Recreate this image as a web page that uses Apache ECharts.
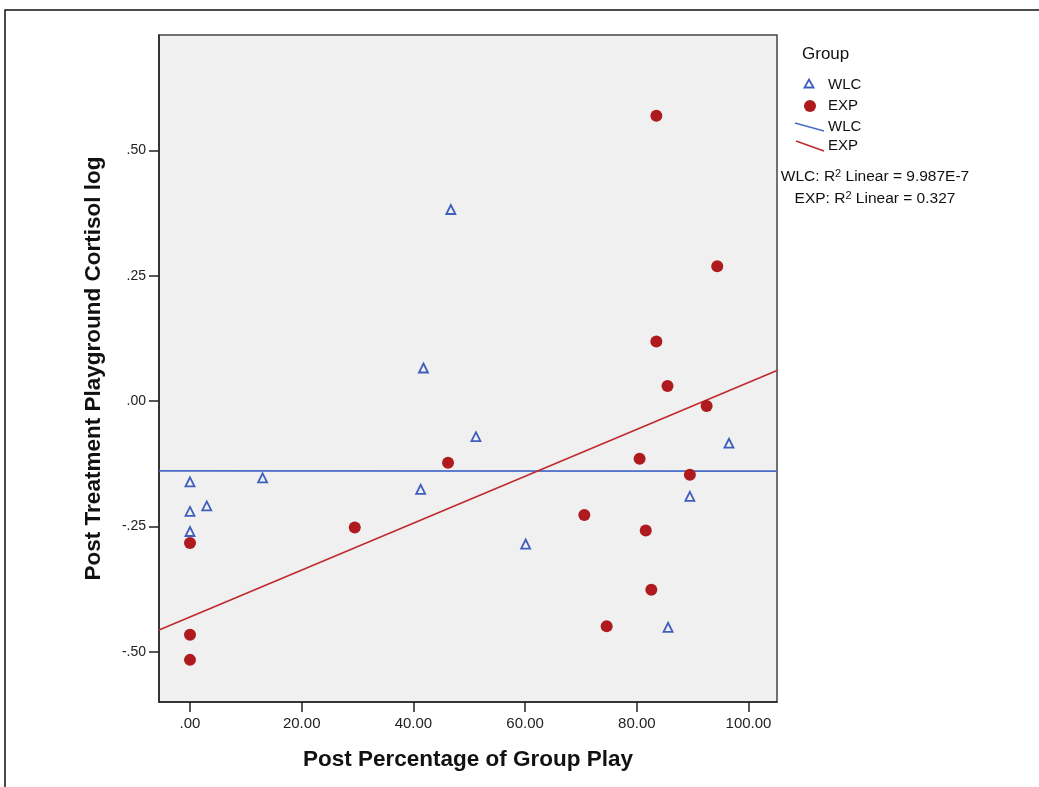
<!DOCTYPE html>
<html>
<head>
<meta charset="utf-8">
<script src="https://cdn.jsdelivr.net/npm/echarts@6.0.0/dist/echarts.min.js"></script>
<style>
  html, body { margin: 0; padding: 0; background: #fff; }
  #chart { width: 1039px; height: 787px; }
</style>
</head>
<body>
<div id="chart"></div>
<script>
// WLC group (triangles)
const wlcX = [0, 0, 0, 3, 13, 41.3, 41.8, 46.7, 51.2, 60.1, 85.6, 89.5, 96.5];
const wlcY = [-0.161, -0.22, -0.26, -0.209, -0.153, -0.176, 0.066, 0.382, -0.071, -0.285, -0.451, -0.19, -0.084];
// EXP group (circles)
const expX = [0, 0, 0, 29.5, 46.2, 70.6, 74.6, 80.5, 81.6, 82.6, 83.5, 83.5, 85.5, 89.5, 92.5, 94.4];
const expY = [-0.283, -0.466, -0.516, -0.252, -0.123, -0.227, -0.449, -0.115, -0.258, -0.376, 0.119, 0.569, 0.030, -0.147, -0.010, 0.269];

const xTicks = [0, 20, 40, 60, 80, 100];
const yTicks = [-0.5, -0.25, 0, 0.25, 0.5];
const xMin = -5.55, xMax = 105.1;
const yMin = -0.60, yMax = 0.73;

const fitTexts = ['WLC: R', ' Linear = 9.987E-7', 'EXP: R', ' Linear = 0.327'];

// least squares fit line
function fit(xs, ys) {
  let n = xs.length, mx = 0, my = 0;
  for (let i = 0; i < n; i++) { mx += xs[i]; my += ys[i]; }
  mx /= n; my /= n;
  let sxy = 0, sxx = 0;
  for (let i = 0; i < n; i++) {
    sxy += (xs[i] - mx) * (ys[i] - my);
    sxx += (xs[i] - mx) * (xs[i] - mx);
  }
  let b = sxy / sxx, a = my - b * mx;
  return [[xMin, a + b * xMin], [xMax, a + b * xMax]];
}

function fmt(v) {
  // SPSS style: .50, -.25, 20.00
  let s = Math.abs(v).toFixed(2);
  if (s.startsWith('0')) s = s.slice(1);
  return (v < 0 ? '-' : '') + s;
}

const blue = '#3f5fbd';
const blueLine = '#4a6cc9';
const red = '#ae1a1e';
const redLine = '#c02a2f';
const font = '"Liberation Sans", Arial, sans-serif';

let myChart = echarts.init(document.getElementById('chart'));
let option = {
  backgroundColor: '#ffffff',
  animation: false,
  textStyle: { fontFamily: font },
  grid: {
    left: 159, top: 35, right: 262, bottom: 85,
    show: true,
    backgroundColor: '#f0f0f0',
    borderColor: '#444',
    borderWidth: 1.5
  },
  xAxis: {
    type: 'value',
    min: xMin, max: xMax,
    name: 'Post Percentage of Group Play',
    nameLocation: 'middle',
    nameGap: 46,
    nameTextStyle: { fontSize: 22.5, fontWeight: 'bold', color: '#111', fontFamily: font },
    splitLine: { show: false },
    axisLine: { show: true, onZero: false, lineStyle: { color: '#222', width: 1.5 } },
    axisTick: { show: true, customValues: xTicks, length: 10, lineStyle: { color: '#222', width: 1.5 } },
    axisLabel: {
      customValues: xTicks, margin: 14, fontSize: 15, color: '#222', fontFamily: font,
      formatter: fmt
    }
  },
  yAxis: {
    type: 'value',
    min: yMin, max: yMax,
    name: 'Post Treatment Playground Cortisol log',
    nameLocation: 'middle',
    nameGap: 54,
    nameTextStyle: { fontSize: 22.5, fontWeight: 'bold', color: '#111', fontFamily: font },
    splitLine: { show: false },
    axisLine: { show: true, onZero: false, lineStyle: { color: '#222', width: 1.5 } },
    axisTick: { show: true, customValues: yTicks, length: 10, lineStyle: { color: '#222', width: 1.5 } },
    axisLabel: {
      customValues: yTicks, margin: 13, fontSize: 14, color: '#222', fontFamily: font,
      formatter: fmt
    }
  },
  series: [
    {
      name: 'WLC fit', type: 'line',
      data: fit(wlcX, wlcY),
      symbol: 'none',
      lineStyle: { color: blueLine, width: 1.6 },
      z: 2
    },
    {
      name: 'EXP fit', type: 'line',
      data: fit(expX, expY),
      symbol: 'none',
      lineStyle: { color: redLine, width: 1.6 },
      z: 2
    },
    {
      name: 'WLC', type: 'scatter',
      data: wlcX.map((x, i) => [x, wlcY[i]]),
      symbol: 'triangle',
      symbolSize: 9,
      itemStyle: { color: 'rgba(0,0,0,0)', borderColor: blue, borderWidth: 1.8, opacity: 1 },
      z: 3
    },
    {
      name: 'EXP', type: 'scatter',
      data: expX.map((x, i) => [x, expY[i]]),
      symbol: 'circle',
      symbolSize: 12,
      itemStyle: { color: red, opacity: 1 },
      z: 3
    }
  ],
  graphic: [
    // outer frame
    { type: 'rect', shape: { x: 5, y: 10, width: 1100, height: 900 }, style: { fill: 'none', stroke: '#111', lineWidth: 1.5 }, silent: true },
    // legend
    { type: 'text', left: 802, top: 46, style: { text: 'Group', fontSize: 17, fill: '#111', fontFamily: font } },
    { type: 'polygon', shape: { points: [[809, 79.5], [813.5, 87.5], [804.5, 87.5]] }, style: { fill: 'none', stroke: blue, lineWidth: 1.8 } },
    { type: 'text', left: 828, top: 77, style: { text: 'WLC', fontSize: 15, fill: '#111', fontFamily: font } },
    { type: 'circle', shape: { cx: 810, cy: 106, r: 6 }, style: { fill: red } },
    { type: 'text', left: 828, top: 98, style: { text: 'EXP', fontSize: 15, fill: '#111', fontFamily: font } },
    { type: 'line', shape: { x1: 795, y1: 123, x2: 824, y2: 131 }, style: { stroke: blueLine, lineWidth: 1.6 } },
    { type: 'text', left: 828, top: 119, style: { text: 'WLC', fontSize: 15, fill: '#111', fontFamily: font } },
    { type: 'line', shape: { x1: 796, y1: 141, x2: 824, y2: 151 }, style: { stroke: redLine, lineWidth: 1.6 } },
    { type: 'text', left: 828, top: 138, style: { text: 'EXP', fontSize: 15, fill: '#111', fontFamily: font } },
    {
      type: 'text', x: 875, y: 177,
      style: {
        text: '{a|' + fitTexts[0] + '}{s|2}{a|' + fitTexts[1] + '}',
        align: 'center', verticalAlign: 'middle',
        rich: {
          a: { fontSize: 15.5, fill: '#111', fontFamily: font },
          s: { fontSize: 11, fill: '#111', fontFamily: font, verticalAlign: 'top', padding: [0, 0, 6, 0] }
        }
      }
    },
    {
      type: 'text', x: 875, y: 199,
      style: {
        text: '{a|' + fitTexts[2] + '}{s|2}{a|' + fitTexts[3] + '}',
        align: 'center', verticalAlign: 'middle',
        rich: {
          a: { fontSize: 15.5, fill: '#111', fontFamily: font },
          s: { fontSize: 11, fill: '#111', fontFamily: font, verticalAlign: 'top', padding: [0, 0, 6, 0] }
        }
      }
    }
  ]
};
myChart.setOption(option);
</script>
</body>
</html>
